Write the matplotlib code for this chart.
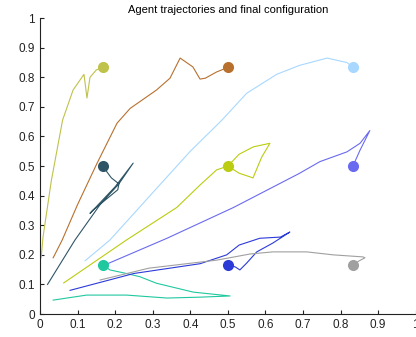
import matplotlib
matplotlib.use('Agg')
import matplotlib.pyplot as plt
import numpy as np

# final configuration (3x3 grid) and agent colours
final_x = [1/6, 1/2, 5/6, 1/6, 1/2, 5/6, 1/6, 1/2, 5/6]
final_y = [5/6, 5/6, 5/6, 1/2, 1/2, 1/2, 1/6, 1/6, 1/6]
colors = ['#bfc24b', '#b8702e', '#a8d8ff', '#2e5566', '#bccc10',
          '#6a6af0', '#20c8a0', '#2c3ad8', '#a0a0a0']

# trajectories (each ends at its final point)
traj_x = [
    [0.003, 0.008, 0.03, 0.06, 0.088, 0.117, 0.125, 0.133, 0.15],
    [0.035, 0.059, 0.10, 0.152, 0.205, 0.24, 0.31, 0.346, 0.373, 0.407, 0.426, 0.44, 0.47],
    [0.12, 0.186, 0.30, 0.40, 0.484, 0.55, 0.63, 0.69, 0.764, 0.817],
    [0.02, 0.093, 0.16, 0.21, 0.248, 0.20, 0.133, 0.14, 0.207, 0.21, 0.19],
    [0.063, 0.23, 0.364, 0.426, 0.47],
    [0.18, 0.338, 0.515, 0.69, 0.745, 0.817, 0.852, 0.878, 0.852, 0.84],
    [0.035, 0.124, 0.23, 0.338, 0.426, 0.506, 0.408, 0.31, 0.266, 0.23, 0.186],
    [0.08, 0.25, 0.426, 0.497, 0.53, 0.585, 0.64, 0.665, 0.62, 0.577, 0.55, 0.532, 0.52],
    [0.16, 0.29, 0.47, 0.56, 0.62, 0.71, 0.78, 0.86, 0.865, 0.85],
]
traj_y = [
    [0.19, 0.26, 0.45, 0.655, 0.757, 0.81, 0.73, 0.80, 0.825],
    [0.19, 0.25, 0.37, 0.51, 0.645, 0.695, 0.757, 0.797, 0.865, 0.835, 0.794, 0.797, 0.818],
    [0.18, 0.25, 0.41, 0.55, 0.655, 0.746, 0.81, 0.84, 0.865, 0.85],
    [0.10, 0.25, 0.37, 0.44, 0.51, 0.43, 0.34, 0.35, 0.42, 0.44, 0.46],
    [0.105, 0.25, 0.36, 0.436, 0.487],
    [0.17, 0.256, 0.36, 0.475, 0.515, 0.548, 0.577, 0.62, 0.554, 0.52],
    [0.047, 0.064, 0.064, 0.054, 0.057, 0.061, 0.074, 0.104, 0.126, 0.137, 0.149],
    [0.08, 0.137, 0.17, 0.20, 0.233, 0.256, 0.26, 0.277, 0.24, 0.21, 0.172, 0.149, 0.159],
    [0.115, 0.155, 0.182, 0.203, 0.21, 0.21, 0.20, 0.193, 0.19, 0.18],
]
# loop of the yellow-green agent around its final point
loop_x = [0.5, 0.53, 0.568, 0.612, 0.59, 0.567, 0.53, 0.5]
loop_y = [0.5, 0.54, 0.565, 0.577, 0.53, 0.46, 0.476, 0.5]

ticks = [0, 0.1, 0.2, 0.3, 0.4, 0.5, 0.6, 0.7, 0.8, 0.9, 1]
tick_labels = ['0', '0.1', '0.2', '0.3', '0.4', '0.5', '0.6', '0.7', '0.8', '0.9', '1']

plt.rcParams['font.family'] = ['Liberation Sans', 'DejaVu Sans']

fig = plt.figure(figsize=(4.16, 3.37), dpi=100)
ax = fig.add_axes([0.0962, 0.0682, 0.903, 0.878])

for i in range(9):
    xs = traj_x[i] + [final_x[i]]
    ys = traj_y[i] + [final_y[i]]
    ax.plot(xs, ys, color=colors[i], linewidth=0.8)
    if i == 4:
        ax.plot(loop_x, loop_y, color=colors[i], linewidth=0.8)

for i in range(9):
    ax.plot(final_x[i], final_y[i], 'o', color=colors[i], markersize=8,
            markeredgewidth=0)

ax.set_xlim(0, 1)
ax.set_ylim(0, 1)
ax.set_xticks(ticks)
ax.set_xticklabels(tick_labels)
ax.set_yticks(ticks)
ax.set_yticklabels(tick_labels)
ax.tick_params(direction='in', length=3, labelsize=8.5, colors='#222222')
ax.spines['top'].set_visible(False)
ax.spines['right'].set_visible(False)
for s in ['left', 'bottom']:
    ax.spines[s].set_color('#222222')
    ax.spines[s].set_linewidth(0.8)
ax.set_title('Agent trajectories and final configuration', fontsize=8, pad=4)

fig.savefig('out.png', dpi=100, facecolor='white')
